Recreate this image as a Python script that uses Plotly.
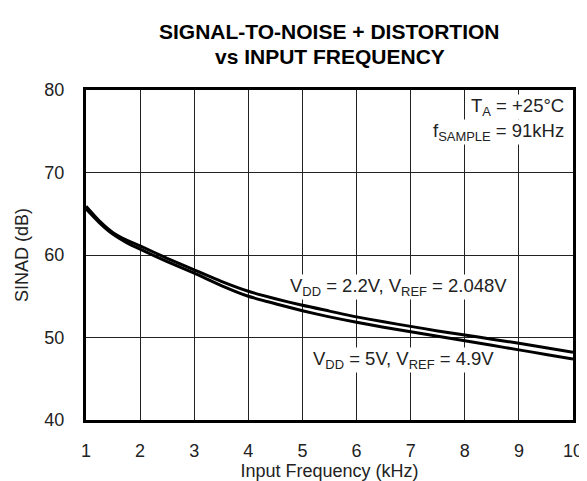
import plotly.graph_objects as go

freq_khz = [1, 1.25, 1.5, 1.75, 2, 2.5, 3, 3.5, 4, 4.5, 5, 5.5, 6, 6.5, 7, 7.5, 8, 8.5, 9, 9.5, 10]
sinad_vdd22 = [65.9, 64.1, 62.7, 61.8, 61.1, 59.6, 58.2, 56.8, 55.6, 54.7, 53.9, 53.2, 52.5, 51.9, 51.35, 50.8, 50.3, 49.8, 49.3, 48.75, 48.2]
sinad_vdd5 = [65.6, 63.9, 62.5, 61.5, 60.7, 59.2, 57.8, 56.3, 55.0, 54.1, 53.25, 52.5, 51.85, 51.25, 50.7, 50.15, 49.6, 49.05, 48.5, 47.95, 47.4]
x_ticks = [1, 2, 3, 4, 5, 6, 7, 8, 9, 10]
y_ticks = [40, 50, 60, 70, 80]

FONT = "Liberation Sans, Arial, Helvetica, sans-serif"

fig = go.Figure()
for name, vals in [("VDD=2.2V", sinad_vdd22), ("VDD=5V", sinad_vdd5)]:
    fig.add_trace(go.Scatter(x=freq_khz, y=vals, mode="lines", name=name,
                             line=dict(color="black", width=3, shape="spline", smoothing=0.6),
                             showlegend=False))

fig.update_layout(
    width=587, height=481,
    margin=dict(l=78, r=12, t=82, b=63),
    paper_bgcolor="white", plot_bgcolor="white",
    font=dict(family=FONT, color="#222", size=18),
    showlegend=False,
)
fig.update_xaxes(range=[1, 10], tickvals=x_ticks, ticktext=[str(v) for v in x_ticks],
                 showgrid=True, gridcolor="#222", gridwidth=1,
                 showline=True, linecolor="black", linewidth=3, mirror=True,
                 ticks="", ticklabelstandoff=12, zeroline=False,
                 tickfont=dict(size=18),
                 title=dict(text="Input Frequency (kHz)", font=dict(size=18), standoff=4))
fig.update_yaxes(range=[40, 80], tickvals=y_ticks,
                 showgrid=True, gridcolor="#222", gridwidth=1,
                 showline=True, linecolor="black", linewidth=3, mirror=True,
                 ticks="", ticklabelstandoff=15, zeroline=False,
                 tickfont=dict(size=18),
                 title=dict(text="SINAD (dB)", font=dict(size=18), standoff=12))

def py(px):
    return 1.0 + (82 - px) / 336

anns = [
    dict(text="<b>SIGNAL-TO-NOISE + DISTORTION</b>", x=0.5, y=py(22),
         xref="paper", yref="paper", showarrow=False, font=dict(size=21, color="black"),
         xanchor="center", yanchor="middle"),
    dict(text="<b>vs INPUT FREQUENCY</b>", x=0.5, y=py(48),
         xref="paper", yref="paper", showarrow=False, font=dict(size=21, color="black"),
         xanchor="center", yanchor="middle"),
    dict(text="T<sub>A</sub> = +25°C", x=9.85, y=77.9, xref="x", yref="y", showarrow=False,
         xanchor="right", yanchor="middle", bgcolor="white", font=dict(size=18.5), borderpad=0),
    dict(text="f<sub>SAMPLE</sub> = 91kHz", x=9.85, y=74.9, xref="x", yref="y", showarrow=False,
         xanchor="right", yanchor="middle", bgcolor="white", font=dict(size=18.5), borderpad=0),
    dict(text="V<sub>DD</sub> = 2.2V, V<sub>REF</sub> = 2.048V", x=6.77, y=56.1, xref="x", yref="y",
         showarrow=False, xanchor="center", yanchor="middle", bgcolor="white", font=dict(size=18.5), borderpad=0),
    dict(text="V<sub>DD</sub> = 5V, V<sub>REF</sub> = 4.9V", x=6.86, y=47.3, xref="x", yref="y",
         showarrow=False, xanchor="center", yanchor="middle", bgcolor="white", font=dict(size=18.5), borderpad=0),
]
fig.update_layout(annotations=anns)

fig.write_html("out.html")
